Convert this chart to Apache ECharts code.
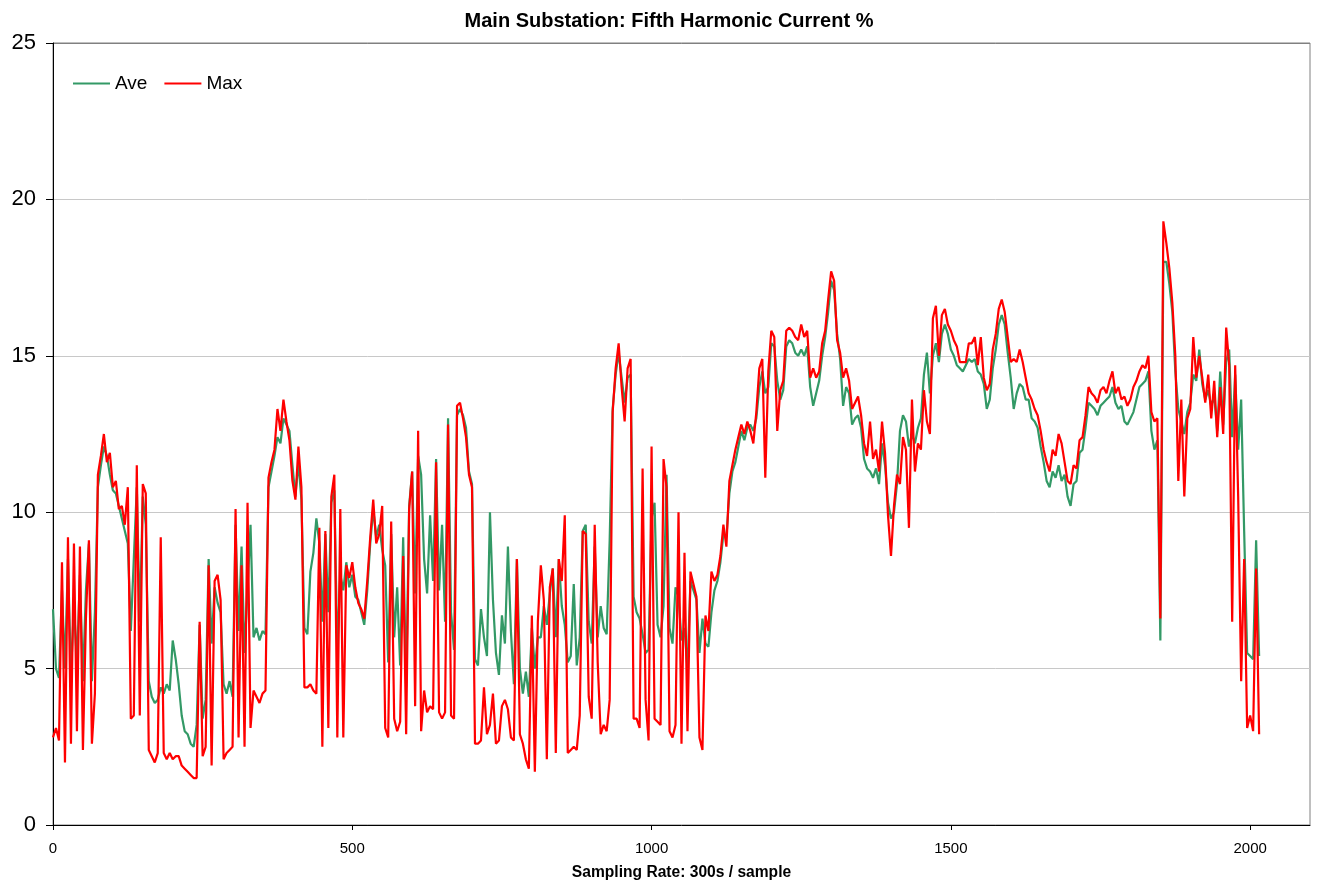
<!DOCTYPE html>
<html>
<head>
<meta charset="utf-8">
<title>Main Substation: Fifth Harmonic Current %</title>
<script src="https://cdn.jsdelivr.net/npm/echarts@6/dist/echarts.min.js"></script>
<style>
  html, body { margin: 0; padding: 0; background: #ffffff; }
  #chart { width: 1318px; height: 882px; }
</style>
</head>
<body>
<div id="chart"></div>
<script>
// Fifth harmonic current (%), one reading kept every 5 samples (300 s per sample)
const sampleStep = 5;

const maxValues = [
  2.8,3.1,2.7,8.4,2.0,9.2,2.6,9.0,3.0,8.9,2.4,6.6,9.1,2.6,4.2,11.2,11.8,12.5,11.6,11.9,
  10.8,11.0,10.1,10.2,9.6,10.8,3.4,3.5,11.5,3.5,10.9,10.6,2.4,2.2,2.0,2.3,9.2,2.3,2.1,2.3,
  2.1,2.2,2.2,1.9,1.8,1.7,1.6,1.5,1.5,6.5,2.2,2.5,8.3,1.9,7.8,8.0,7.2,2.1,2.3,2.4,
  2.5,10.1,2.8,8.3,2.5,10.3,3.1,4.3,4.1,3.9,4.2,4.3,11.1,11.6,12.0,13.3,12.6,13.6,12.9,12.3,
  11.0,10.4,12.1,10.8,4.4,4.4,4.5,4.3,4.2,9.5,2.5,9.4,3.1,10.5,11.2,2.8,10.1,2.8,8.3,7.9,
  8.4,7.6,7.1,6.9,6.6,7.8,9.2,10.4,9.0,9.3,10.2,3.1,2.8,9.7,3.4,3.0,3.3,8.6,2.9,10.1,
  11.3,3.8,12.6,3.0,4.3,3.6,3.8,3.7,11.6,3.6,3.4,3.6,12.8,3.5,3.4,13.4,13.5,13.0,12.4,11.2,
  10.8,2.6,2.6,2.7,4.4,2.9,3.2,4.2,2.6,2.7,3.8,4.0,3.7,2.8,2.7,8.5,2.9,2.6,2.1,1.8,
  6.7,1.7,6.5,8.3,7.2,2.1,7.6,8.2,2.3,8.5,7.8,9.9,2.3,2.4,2.5,2.4,3.5,9.4,9.3,4.1,
  3.4,9.6,5.2,2.9,3.2,3.0,4.0,13.2,14.6,15.4,14.0,12.9,14.6,14.9,3.4,3.4,3.1,11.4,4.0,2.7,
  12.1,3.4,3.3,3.2,11.7,10.8,3.0,2.8,3.2,10.0,2.6,8.7,3.0,8.1,7.7,7.3,2.8,2.4,6.7,6.2,
  8.1,7.8,8.0,8.6,9.6,8.9,11.0,11.5,12.0,12.4,12.8,12.5,12.9,12.6,12.2,13.2,14.6,14.9,11.1,14.5,
  15.8,15.6,12.6,13.9,14.2,15.8,15.9,15.8,15.6,15.5,16.0,15.6,15.8,14.3,14.6,14.3,14.5,15.4,15.8,16.8,
  17.7,17.4,15.5,15.1,14.3,14.6,14.2,13.3,13.5,13.7,13.1,12.2,11.8,12.9,11.7,12.0,11.3,12.9,11.9,9.9,
  8.6,10.2,11.2,10.9,12.4,12.0,9.5,13.6,11.3,12.2,12.0,13.9,12.9,12.5,16.2,16.6,15.0,16.3,16.5,16.0,
  15.8,15.5,15.3,14.8,14.8,14.8,15.4,15.4,15.6,14.7,15.6,14.3,13.9,14.1,15.2,15.7,16.5,16.8,16.4,15.6,
  14.8,14.9,14.8,15.2,14.8,14.3,13.8,13.6,13.3,13.1,12.6,12.0,11.6,11.3,12.0,11.8,12.5,12.2,11.6,11.0,
  10.9,11.5,11.4,12.3,12.4,13.1,14.0,13.8,13.7,13.5,13.9,14.0,13.8,14.2,14.5,13.8,14.0,13.6,13.7,13.4,
  13.6,14.0,14.2,14.5,14.7,14.6,15.0,13.2,12.9,13.0,6.6,19.3,18.6,17.8,16.7,15.0,11.0,13.6,10.5,13.0,
  13.3,15.6,14.3,15.0,14.3,13.5,14.4,13.0,14.2,12.4,14.0,12.5,15.9,14.7,6.5,14.7,10.5,4.6,8.5,3.1,
  3.5,3.0,8.2,2.9
];

const aveValues = [
  6.9,5.0,4.7,7.5,5.0,8.5,4.8,7.0,5.2,8.0,4.6,7.5,9.0,4.6,6.8,10.8,11.5,12.1,11.8,11.2,
  10.7,10.6,10.2,9.8,9.4,9.0,6.2,8.5,10.8,6.5,10.5,9.6,4.6,4.1,3.9,4.0,4.4,4.2,4.5,4.3,
  5.9,5.3,4.5,3.5,3.0,2.9,2.6,2.5,3.2,6.4,3.4,4.0,8.5,5.8,7.6,7.1,6.8,4.5,4.2,4.6,
  4.1,9.6,6.2,8.9,5.5,7.5,9.6,6.0,6.3,5.9,6.2,6.1,10.8,11.3,11.8,12.4,12.2,13.0,12.8,12.6,
  11.5,10.5,11.6,10.4,6.3,6.1,8.1,8.7,9.8,9.0,6.5,9.3,6.8,10.3,10.7,5.6,8.0,7.5,8.4,7.6,
  8.0,7.3,7.2,6.8,6.4,7.5,9.0,10.1,9.2,9.6,8.8,8.3,5.2,9.3,6.0,7.6,5.1,9.2,4.4,10.2,
  11.3,7.4,11.8,11.2,8.5,7.4,9.9,7.8,11.7,7.5,9.6,6.5,13.0,6.8,5.6,13.1,13.3,13.1,12.7,11.3,
  10.9,5.3,5.1,6.9,6.0,5.4,10.0,7.2,5.5,4.8,6.7,5.8,8.9,6.2,4.5,8.5,5.0,4.2,4.9,4.1,
  6.3,5.0,6.0,6.0,7.0,6.4,7.4,8.2,6.0,8.5,7.0,6.4,5.2,5.4,7.7,5.1,6.0,9.4,9.6,6.5,
  5.8,8.9,6.0,7.0,6.3,6.1,9.1,13.3,14.4,15.1,14.3,13.5,14.3,14.4,7.3,6.8,6.6,6.1,5.5,5.6,
  9.8,10.3,6.4,6.0,7.0,11.2,6.3,5.8,7.6,7.3,5.9,6.3,5.0,7.8,7.5,7.2,5.5,6.6,5.8,5.7,
  6.8,7.5,7.8,8.4,9.3,9.2,10.6,11.3,11.6,12.1,12.6,12.3,12.7,12.8,12.6,13.0,14.0,14.5,13.8,14.0,
  15.4,15.3,14.2,13.6,13.9,15.3,15.5,15.4,15.1,15.0,15.2,15.0,15.3,14.0,13.4,13.8,14.2,15.0,15.6,16.4,
  17.4,17.1,15.7,14.9,13.4,14.0,13.8,12.8,13.0,13.1,12.7,11.7,11.4,11.3,11.1,11.4,10.9,12.2,11.5,10.3,
  9.8,10.0,10.9,12.6,13.1,12.9,12.1,12.5,12.2,12.7,13.0,14.4,15.1,13.8,15.0,15.4,14.8,15.7,16.0,15.7,
  15.2,15.0,14.7,14.6,14.5,14.7,14.9,14.8,14.9,14.5,14.4,14.1,13.3,13.6,14.6,15.2,16.0,16.3,16.0,15.1,
  14.3,13.3,13.8,14.1,14.0,13.6,13.6,13.0,12.9,12.7,12.1,11.6,11.0,10.8,11.3,11.1,11.5,11.0,11.2,10.5,
  10.2,10.9,11.0,11.9,12.0,12.7,13.5,13.4,13.3,13.1,13.4,13.5,13.6,13.7,14.0,13.5,13.3,13.4,12.9,12.8,
  13.0,13.2,13.6,14.0,14.1,14.2,14.5,12.6,12.0,12.3,5.9,18.0,18.0,17.3,16.4,14.5,13.3,12.9,12.5,13.2,
  13.5,14.4,14.2,15.2,14.1,13.6,13.9,13.4,13.7,12.6,14.5,12.8,14.8,15.2,12.4,14.4,12.0,13.6,9.4,5.5,
  5.4,5.3,9.1,5.4
];

const xTickValues = [0, 500, 1000, 1500, 2000];

const sampleNo = maxValues.map((_, k) => k * sampleStep);
const toPairs = (values) => values.map((v, k) => [sampleNo[k], v]);

const FONT = "'Liberation Sans', Arial, Helvetica, sans-serif";
const chart = echarts.init(document.getElementById('chart'), null, { renderer: 'canvas' });

chart.setOption({
  animation: false,
  backgroundColor: '#ffffff',
  title: {
    text: 'Main Substation: Fifth Harmonic Current %',
    left: 664,
    top: 6,
    textAlign: 'center',
    textStyle: { fontFamily: FONT, fontSize: 20, fontWeight: 'bold', color: '#000000' }
  },
  legend: {
    left: 68,
    top: 69,
    icon: 'rect',
    itemWidth: 37,
    itemHeight: 2,
    itemGap: 17,
    textStyle: { fontFamily: FONT, fontSize: 19, color: '#000000' },
    data: ['Ave', 'Max']
  },
  grid: {
    left: 53,
    right: 8,
    top: 43,
    bottom: 57,
    show: true,
    borderColor: '#808080',
    borderWidth: 1,
    outerBoundsMode: 'none'
  },
  xAxis: {
    type: 'value',
    min: 0,
    max: 2100,
    interval: 500,
    name: 'Sampling Rate: 300s / sample',
    nameLocation: 'middle',
    nameGap: 40,
    nameTextStyle: { fontFamily: FONT, fontSize: 15.6, fontWeight: 'bold', color: '#000000' },
    axisLine: { show: true, lineStyle: { color: '#000000', width: 1 } },
    axisTick: { show: true, length: 5, customValues: xTickValues, lineStyle: { color: '#000000' } },
    axisLabel: {
      customValues: xTickValues,
      formatter: (v) => String(v),
      fontFamily: FONT, fontSize: 15, color: '#000000', margin: 16
    },
    splitLine: { show: false }
  },
  yAxis: {
    type: 'value',
    min: 0,
    max: 25,
    interval: 5,
    axisLine: { show: true, lineStyle: { color: '#000000', width: 1 } },
    axisTick: { show: true, length: 7, lineStyle: { color: '#000000' } },
    axisLabel: { fontFamily: FONT, fontSize: 22, color: '#000000', margin: 17 },
    splitLine: {
      show: true,
      lineStyle: { color: ['#c8c8c8', '#c8c8c8', '#c8c8c8', '#c8c8c8', '#c8c8c8', '#808080'], width: 1 }
    }
  },
  series: [
    {
      name: 'Ave',
      type: 'line',
      data: toPairs(aveValues),
      symbol: 'none',
      color: '#339966',
      lineStyle: { color: '#339966', width: 2.2 },
      z: 2
    },
    {
      name: 'Max',
      type: 'line',
      data: toPairs(maxValues),
      symbol: 'none',
      color: '#ff0000',
      lineStyle: { color: '#ff0000', width: 2.2 },
      z: 3
    }
  ]
});
</script>
</body>
</html>
